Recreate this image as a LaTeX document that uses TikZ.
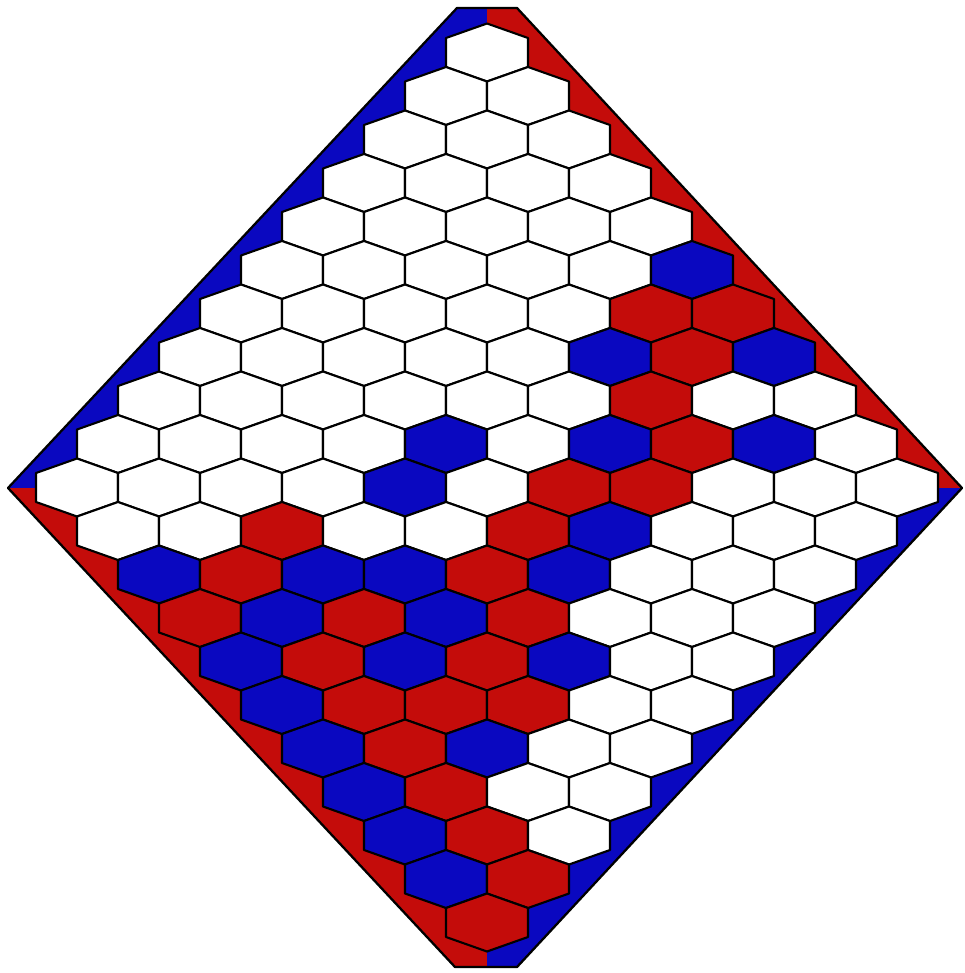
\documentclass[tikz,border=0pt]{standalone}
\usepackage{tikz}

\definecolor{R}{RGB}{196,12,10}
\definecolor{B}{RGB}{10,8,192}
\definecolor{W}{RGB}{255,255,255}

\begin{document}
\begin{tikzpicture}[x=0.02cm, y=-0.02cm]
    \tikzstyle{cell} = [draw=black, line width=1.2pt, line join=round]
    \tikzstyle{rim} = [draw=black, line width=1.3pt, line join=round]

    \useasboundingbox (0,0) rectangle (964,973);

    \coordinate (west) at (8,488);
    \coordinate (east) at (962,488);
    \coordinate (nw) at (457,8);
    \coordinate (ne) at (517,8);
    \coordinate (sw) at (455,967);
    \coordinate (se) at (517,967);
    \coordinate (mid) at (487,488);
    \coordinate (top) at (487,8);
    \coordinate (bot) at (487,967);

    \fill[B] (west) -- (nw) -- (top) -- (mid) -- cycle;
    \fill[R] (top) -- (ne) -- (east) -- (mid) -- cycle;
    \fill[R] (west) -- (mid) -- (bot) -- (sw) -- cycle;
    \fill[B] (mid) -- (east) -- (se) -- (bot) -- cycle;
    \path[rim] (west) -- (nw) -- (ne) -- (east) -- (se) -- (sw) -- cycle;

    \foreach \k/\cols in {
        0/{W}, 1/{W,W}, 2/{W,W,W}, 3/{W,W,W,W}, 4/{W,W,W,W,W},
        5/{W,W,W,W,W,B}, 6/{W,W,W,W,W,R,R}, 7/{W,W,W,W,W,B,R,B},
        8/{W,W,W,W,W,W,R,W,W}, 9/{W,W,W,W,B,W,B,R,B,W},
        10/{W,W,W,W,B,W,R,R,W,W,W},
        11/{W,W,R,W,W,R,B,W,W,W}, 12/{B,R,B,B,R,B,W,W,W},
        13/{R,B,R,B,R,W,W,W}, 14/{B,R,B,R,B,W,W}, 15/{B,R,R,R,W,W},
        16/{B,R,B,W,W}, 17/{B,R,W,W}, 18/{B,R,W}, 19/{B,R}, 20/{R}} {
        \pgfmathtruncatemacro{\n}{min(\k,20-\k)}
        \foreach \c [count=\m from 0] in \cols {
            \pgfmathsetmacro{\cx}{487+(2*\m-\n)*41}
            \pgfmathsetmacro{\cy}{52.5+\k*43.5}
            \path[cell, fill=\c] (\cx,\cy) ++(0,-29) -- ++(41,14.5) -- ++(0,29)
                -- ++(-41,14.5) -- ++(-41,-14.5) -- ++(0,-29) -- cycle;
        }
    }
\end{tikzpicture}
\end{document}
